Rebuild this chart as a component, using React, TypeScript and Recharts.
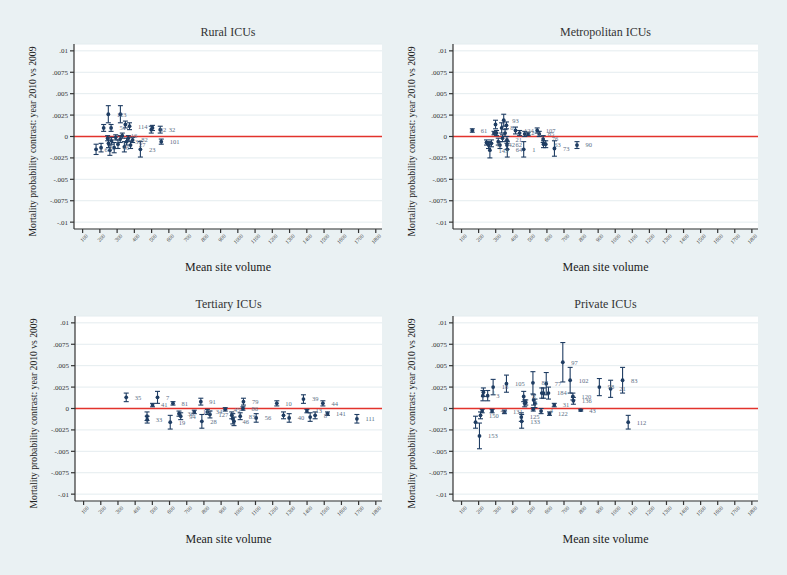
import { ScatterChart, Scatter, XAxis, YAxis, CartesianGrid, ReferenceLine, ErrorBar, LabelList } from 'recharts'

// Rural ICUs
const ruralVol = [178, 207, 222, 249, 319, 265, 348, 372, 245, 250, 258, 268, 283, 292, 305, 318, 330, 342, 355, 365, 378, 390, 435, 498, 505, 550, 556]
const ruralEst = [-0.0015, -0.0013, 0.001, 0.0026, 0.0026, 0.001, 0.0014, 0.0012, -0.0002, -0.0008, -0.0016, -0.0005, -0.0013, -0.0001, -0.0009, -0.0003, 0.0001, -0.0012, -0.0006, -0.0002, -0.001, -0.0004, -0.0015, 0.0008, 0.001, 0.0008, -0.0006]
const ruralHalf = [0.0006, 0.0005, 0.0004, 0.001, 0.001, 0.0004, 0.0004, 0.0004, 0.0003, 0.0005, 0.0006, 0.0004, 0.0006, 0.0003, 0.0005, 0.0004, 0.0003, 0.0006, 0.0004, 0.0003, 0.0004, 0.0003, 0.0009, 0.0004, 0.0003, 0.0004, 0.0003]
const ruralLabels = ['6', '8', '', '123', '', '51', '', '114', '', '', '', '', '46', '', '', '', '16', '', '37', '', '27', '82', '23', '92', '', '32', '101']

// Metropolitan ICUs
const metroVol = [163, 246, 258, 266, 275, 290, 299, 305, 315, 325, 335, 347, 340, 355, 363, 366, 366, 368, 416, 440, 464, 470, 490, 543, 555, 578, 580, 593, 644, 776]
const metroEst = [0.0007, -0.0007, -0.001, -0.0016, -0.0008, 0.0004, 0.0014, 0.0004, -0.0006, -0.001, 0.001, 0.0019, -0.0002, 0.0004, 0.0013, -0.0004, -0.001, -0.0015, 0.0007, 0.0004, -0.0015, 0.0003, 0.0003, 0.0007, 0.0003, -0.0003, -0.0009, -0.0009, -0.0014, -0.001]
const metroHalf = [0.0002, 0.0003, 0.0004, 0.0009, 0.0004, 0.0002, 0.0005, 0.0003, 0.0004, 0.0004, 0.0006, 0.0007, 0.0004, 0.0004, 0.0004, 0.0004, 0.0005, 0.0009, 0.0004, 0.0003, 0.0009, 0.0003, 0.0002, 0.0003, 0.0003, 0.0004, 0.0004, 0.0004, 0.0009, 0.0004]
const metroLabels = ['61', '', '5', '143', '', '', '', '', '', '42', '8', '93', '', '', '', '21', '62', '64', '124', '12', '1', '', '5', '107', '85', '76', '', '63', '73', '90']

// Tertiary ICUs
const tertVol = [348, 469, 470, 501, 530, 604, 620, 655, 665, 744, 782, 788, 820, 835, 924, 962, 968, 975, 1011, 1027, 1030, 1104, 1224, 1263, 1296, 1379, 1399, 1418, 1447, 1492, 1519, 1690]
const tertEst = [0.0013, -0.0009, -0.0013, 0.0004, 0.0013, -0.0016, 0.0006, -0.0006, -0.0009, -0.0004, 0.0008, -0.0015, -0.0004, -0.0007, -0.0001, -0.0008, -0.0012, -0.0015, -0.0009, 0.0, 0.0008, -0.0011, 0.0006, -0.0008, -0.0011, 0.0011, -0.0003, -0.001, -0.0008, 0.0006, -0.0006, -0.0012]
const tertHalf = [0.0005, 0.0005, 0.0004, 0.0002, 0.0007, 0.0008, 0.0002, 0.0003, 0.0004, 0.0002, 0.0004, 0.0008, 0.0003, 0.0004, 0.0002, 0.0004, 0.0006, 0.0005, 0.0004, 0.0002, 0.0004, 0.0005, 0.0003, 0.0004, 0.0005, 0.0005, 0.0002, 0.0005, 0.0004, 0.0003, 0.0002, 0.0005]
const tertLabels = ['35', '', '33', '41', '7', '19', '81', '36', '94', '117', '91', '28', '34', '127', '45', '', '', '46', '83', '86', '79', '56', '10', '', '40', '39', '13', '', '8', '44', '141', '111']

// Private ICUs
const privVol = [182, 205, 211, 221, 225, 228, 253, 279, 285, 351, 363, 450, 452, 464, 470, 476, 518, 520, 522, 530, 566, 570, 580, 596, 609, 615, 643, 693, 736, 752, 755, 798, 907, 973, 1043, 1076]
const privEst = [-0.0016, -0.0032, -0.0008, -0.0003, 0.0015, 0.0019, 0.0015, -0.0003, 0.0025, -0.0004, 0.0029, -0.001, -0.0015, 0.0014, 0.0006, 0.0007, 0.003, -0.0001, 0.001, 0.0006, -0.0003, 0.0018, 0.0018, 0.0029, 0.0018, -0.0006, 0.0004, 0.0054, 0.0033, 0.0014, 0.0009, -0.0002, 0.0025, 0.0023, 0.0033, -0.0016]
const privHalf = [0.0007, 0.0015, 0.0004, 0.0002, 0.0006, 0.0005, 0.0006, 0.0002, 0.0009, 0.0002, 0.001, 0.0005, 0.0008, 0.0006, 0.0004, 0.0003, 0.0013, 0.0002, 0.0006, 0.0005, 0.0003, 0.0006, 0.0006, 0.0013, 0.0007, 0.0002, 0.0002, 0.0023, 0.0015, 0.0004, 0.0004, 0.0001, 0.001, 0.001, 0.0015, 0.0008]
const privLabels = ['', '153', '150', '', '', '1', '3', '43', '18', '131', '105', '125', '133', '8', '', '5', '87', '', '', '', '4', '', '', '77', '184', '122', '31', '97', '102', '120', '136', '43', '98', '21', '83', '112']

const xTicks = [100, 200, 300, 400, 500, 600, 700, 800, 900, 1000, 1100, 1200, 1300, 1400, 1500, 1600, 1700, 1800]
const yTicks = [-0.01, -0.0075, -0.005, -0.0025, 0, 0.0025, 0.005, 0.0075, 0.01]

const SERIF = '"Liberation Serif", "DejaVu Serif", serif'
const NAVY = '#1f3d63'

const fmtY = (v: number) => (v === 0 ? '0' : String(v).replace('0.', '.'))

function XTick({ x, y, payload }: any) {
  return (
    <g transform={`translate(${x},${y})`}>
      <text x={3} y={5} textAnchor="end" transform="rotate(-45)" fontSize={5.5} fontFamily={SERIF} fill="#333">
        {payload.value}
      </text>
    </g>
  )
}

function Dot({ cx, cy }: any) {
  return <circle cx={cx} cy={cy} r={1.9} fill={NAVY} />
}

function build(vol: number[], est: number[], half: number[], labels: string[]) {
  return vol.map((v, i) => ({ vol: v, est: est[i], err: half[i], label: labels[i] }))
}

interface PanelProps {
  title: string
  left: number
  top: number
  w: number
  h: number
  data: { vol: number; est: number; err: number; label: string }[]
}

function Panel({ title, left, top, w, h, data }: PanelProps) {
  return (
    <>
      <div style={{ position: 'absolute', left: left - 50, top: top - 10 }}>
        <ScatterChart width={w + 60} height={h + 45} margin={{ top: 10, right: 10, left: 10, bottom: 15 }}>
          <CartesianGrid horizontal vertical={false} fill="#ffffff" stroke="#e4ecef" />
          <XAxis
            type="number"
            dataKey="vol"
            domain={[50, 1836]}
            ticks={xTicks}
            interval={0}
            tick={<XTick />}
            height={30}
            tickSize={4}
            stroke="#333"
            strokeWidth={1.2}
            allowDataOverflow
          />
          <YAxis
            type="number"
            dataKey="est"
            domain={[-0.0108, 0.0108]}
            ticks={yTicks}
            interval={0}
            tickFormatter={fmtY}
            width={40}
            tickSize={4}
            tickMargin={2}
            stroke="#333"
            strokeWidth={1.2}
            tick={{ fontSize: 7, fontFamily: SERIF, fill: '#333' }}
            allowDataOverflow
          />
          <ReferenceLine y={0} stroke="#e2332c" strokeWidth={1.5} />
          <Scatter data={data} shape={<Dot />} isAnimationActive={false}>
            <ErrorBar dataKey="err" direction="y" width={2.5} stroke={NAVY} strokeWidth={1.1} />
            <LabelList dataKey="label" position="right" offset={4} fontSize={6.5} fontFamily={SERIF} fill="#5a6e85" />
          </Scatter>
        </ScatterChart>
      </div>
      <svg style={{ position: 'absolute', left: 0, top: 0, pointerEvents: 'none' }} width={787} height={575}>
        <text x={left + w / 2} y={top - 8} textAnchor="middle" fontSize={12} fontFamily={SERIF} fill="#333">
          {title}
        </text>
        <text x={left + w / 2} y={top + h + 32} textAnchor="middle" fontSize={12} fontFamily={SERIF} fill="#222">
          Mean site volume
        </text>
        <text
          transform={`translate(${left - 38},${top + h / 2}) rotate(-90)`}
          textAnchor="middle"
          fontSize={10}
          fontFamily={SERIF}
          fill="#222"
          textLength={190}
          lengthAdjust="spacingAndGlyphs"
        >
          Mortality probability  contrast: year 2010 vs 2009
        </text>
      </svg>
    </>
  )
}

export default function App() {
  return (
    <div style={{ position: 'absolute', left: 0, top: 0, width: 787, height: 575, background: '#eaf1f3', overflow: 'hidden' }}>
      <Panel title="Rural ICUs" left={74} top={44} w={308} h={195} data={build(ruralVol, ruralEst, ruralHalf, ruralLabels)} />
      <Panel title="Metropolitan ICUs" left={453} top={44} w={305} h={195} data={build(metroVol, metroEst, metroHalf, metroLabels)} />
      <Panel title="Tertiary ICUs" left={75} top={316} w={307} h={195} data={build(tertVol, tertEst, tertHalf, tertLabels)} />
      <Panel title="Private ICUs" left={453} top={316} w={305} h={195} data={build(privVol, privEst, privHalf, privLabels)} />
    </div>
  )
}
